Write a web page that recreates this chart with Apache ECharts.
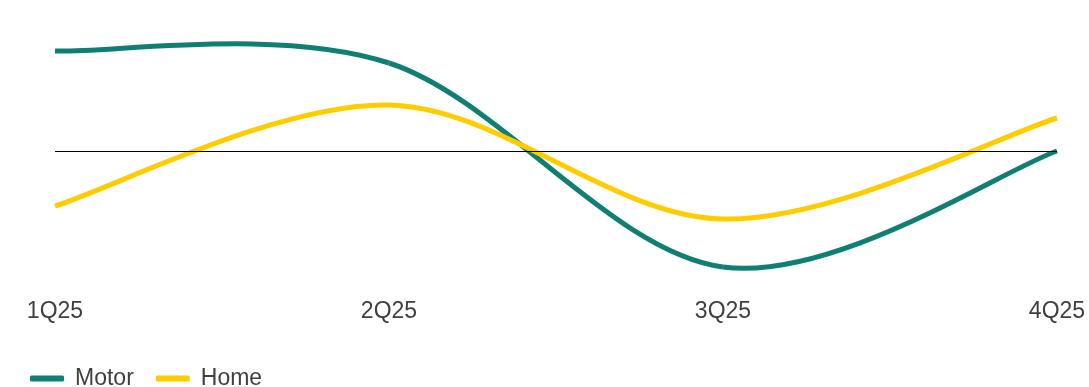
<!DOCTYPE html>
<html>
<head>
<meta charset="utf-8">
<script src="https://cdn.jsdelivr.net/npm/echarts@6/dist/echarts.min.js"></script>
<style>
  html, body { margin: 0; padding: 0; background: #fff; }
  #chart { width: 1089px; height: 387px; }
</style>
</head>
<body>
<div id="chart"></div>
<script>
const quarters = ['1Q25', '2Q25', '3Q25', '4Q25'];
const motor = [10.0, 8.8, -11.6, 0];
const home = [-5.5, 4.6, -6.8, 3.3];

const chart = echarts.init(document.getElementById('chart'));

// spline through the points, one bezier piece per gap (Catmull-Rom style)
const splineSeries = (name, values, color, z) => ({
  name,
  type: 'custom',
  data: values.map((v, i) => [i, v]),
  encode: { x: 0, y: 1 },
  itemStyle: { color },
  z,
  renderItem(params, api) {
    const i = params.dataIndex;
    const n = values.length;
    if (i >= n - 1) return null;
    const pt = (k) => {
      const j = Math.max(0, Math.min(n - 1, k));
      return api.coord([j, values[j]]);
    };
    const p0 = pt(i - 1);
    const p1 = pt(i);
    const p2 = pt(i + 1);
    const p3 = pt(i + 2);
    return {
      type: 'bezierCurve',
      shape: {
        x1: p1[0], y1: p1[1],
        x2: p2[0], y2: p2[1],
        cpx1: p1[0] + (p2[0] - p0[0]) / 6,
        cpy1: p1[1] + (p2[1] - p0[1]) / 6,
        cpx2: p2[0] - (p3[0] - p1[0]) / 6,
        cpy2: p2[1] - (p3[1] - p1[1]) / 6,
      },
      style: { stroke: color, lineWidth: 5, fill: null },
    };
  },
});

const option = {
  animation: false,
  grid: { left: 55, right: 32, top: 21, height: 260 },
  legend: {
    left: 25,
    top: 362,
    icon: 'roundRect',
    itemWidth: 34,
    itemHeight: 6,
    itemGap: 22,
    textStyle: { fontFamily: 'Liberation Sans', fontSize: 23, color: '#404040', padding: [0, 0, 0, 6] },
    data: ['Motor', 'Home'],
  },
  xAxis: {
    type: 'category',
    boundaryGap: false,
    data: quarters,
    axisLine: { show: false },
    axisTick: { show: false },
    axisLabel: { fontFamily: 'Liberation Sans', fontSize: 23, color: '#404040', margin: 19 },
  },
  yAxis: {
    type: 'value',
    min: -13,
    max: 13,
    axisLine: { show: false },
    axisTick: { show: false },
    axisLabel: { show: false },
    splitLine: { show: false },
  },
  series: [
    {
      name: 'zero',
      type: 'line',
      data: [],
      markLine: {
        silent: true,
        symbol: 'none',
        label: { show: false },
        lineStyle: { color: '#000', width: 1, type: 'solid' },
        data: [{ yAxis: 0 }],
      },
      z: 1,
    },
    splineSeries('Motor', motor, '#0f7f73', 3),
    splineSeries('Home', home, '#ffcc00', 4),
  ],
};

chart.setOption(option);
</script>
</body>
</html>
